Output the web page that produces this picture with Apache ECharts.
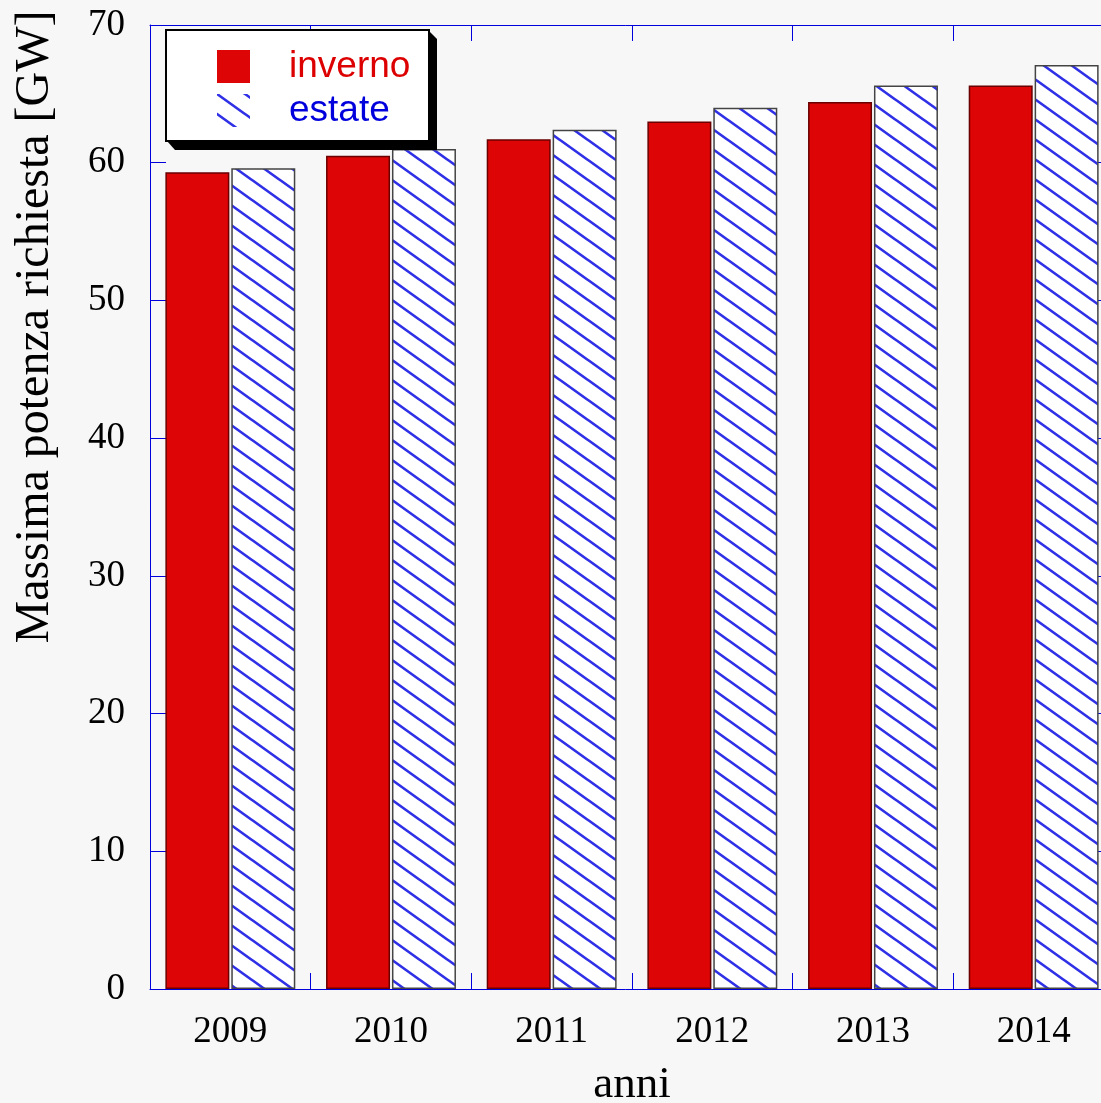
<!DOCTYPE html>
<html>
<head>
<meta charset="utf-8">
<script src="https://cdn.jsdelivr.net/npm/echarts@6/dist/echarts.min.js"></script>
<style>
  html, body { margin: 0; padding: 0; background: #f7f7f7; }
  #chart { width: 1101px; height: 1103px; }
</style>
</head>
<body>
<div id="chart"></div>
<script>
// Peak power demand in Italy, winter vs summer (GW)
const years = ['2009', '2010', '2011', '2012', '2013', '2014'];
const inverno = [59.3, 60.5, 61.7, 63.0, 64.4, 65.6];
const estate = [59.6, 61.0, 62.4, 64.0, 65.6, 67.1];
const seriesNames = ['inverno', 'estate'];
const yTitle = 'Massima potenza richiesta [GW]';
const xTitle = 'anni';

const AXIS_BLUE = '#0000dd';
const RED = '#dd0505';
const SERIF = '"Liberation Serif", "Times New Roman", serif';
const SANS = '"Liberation Sans", Arial, sans-serif';

// Diagonal blue hatch on white for the summer bars
function makeHatch() {
  const w = 28, h = 20;
  const c = document.createElement('canvas');
  c.width = w; c.height = h;
  const g = c.getContext('2d');
  g.fillStyle = '#ffffff';
  g.fillRect(0, 0, w, h);
  g.strokeStyle = '#3030e6';
  g.lineWidth = 2.6;
  g.beginPath();
  for (const dx of [-w, 0, w]) {
    g.moveTo(dx - w, -h);
    g.lineTo(dx + 2 * w, 2 * h);
  }
  g.stroke();
  return c;
}
const hatch = { image: makeHatch(), repeat: 'repeat' };

const chart = echarts.init(document.getElementById('chart'), null, { renderer: 'canvas' });

function ticks() {
  return { show: true, inside: true, length: 16, lineStyle: { color: AXIS_BLUE, width: 1 } };
}
function axisLine() {
  return { show: true, onZero: false, lineStyle: { color: AXIS_BLUE, width: 1 } };
}

chart.setOption({
  backgroundColor: '#f7f7f7',
  animation: false,
  grid: {
    left: 150, top: 25, width: 964, height: 964,
    containLabel: false, outerBoundsMode: 'none'
  },
  xAxis: [
    {
      type: 'category', position: 'bottom', data: years,
      axisLine: axisLine(), axisTick: ticks(),
      axisLabel: { color: '#000', fontFamily: SERIF, fontSize: 37, margin: 25 },
      splitLine: { show: false },
      name: xTitle, nameLocation: 'middle', nameGap: 74,
      nameTextStyle: { color: '#000', fontFamily: SERIF, fontSize: 45 }
    },
    {
      type: 'category', position: 'top', data: years,
      axisLine: axisLine(), axisTick: ticks(),
      axisLabel: { show: false }, splitLine: { show: false }
    }
  ],
  yAxis: [
    {
      type: 'value', position: 'left', min: 0, max: 70, interval: 10,
      axisLine: axisLine(), axisTick: ticks(),
      axisLabel: { color: '#000', fontFamily: SERIF, fontSize: 37, margin: 25 },
      splitLine: { show: false }
    },
    {
      type: 'value', position: 'right', min: 0, max: 70, interval: 10,
      axisLine: axisLine(), axisTick: ticks(),
      axisLabel: { show: false }, splitLine: { show: false }
    }
  ],
  legend: {
    left: 217, top: 48, padding: 0, orient: 'vertical', z: 20,
    icon: 'rect', itemWidth: 33, itemHeight: 33, itemGap: 7,
    selectedMode: false,
    textStyle: { fontFamily: SANS, fontSize: 37, padding: [20, 0, 0, 34] },
    data: [
      { name: seriesNames[0], itemStyle: { borderWidth: 0 }, textStyle: { color: '#dd0000' } },
      { name: seriesNames[1], itemStyle: { borderWidth: 0 }, textStyle: { color: '#0000dd' } }
    ]
  },
  graphic: [
    {
      type: 'polygon', z: 10,
      shape: { points: [[429, 31], [437, 39], [437, 150], [175, 150], [167, 141]] },
      style: { fill: '#000' }
    },
    {
      type: 'rect', z: 11,
      shape: { x: 166, y: 30, width: 263, height: 111 },
      style: { fill: '#ffffff', stroke: '#000', lineWidth: 2 }
    },
    {
      type: 'text', z: 11, x: 35, y: 327, rotation: Math.PI / 2,
      style: {
        text: yTitle, font: '48px ' + SERIF, fill: '#000',
        align: 'center', verticalAlign: 'middle'
      }
    }
  ],
  series: [
    {
      name: seriesNames[0], type: 'bar', data: inverno,
      barWidth: 64, barGap: '3%',
      itemStyle: { color: RED, borderColor: '#6a0000', borderWidth: 1.5 }
    },
    {
      name: seriesNames[1], type: 'bar', data: estate,
      barWidth: 64, barGap: '3%',
      itemStyle: { color: hatch, borderColor: '#444', borderWidth: 1.5 }
    }
  ]
});
</script>
</body>
</html>
